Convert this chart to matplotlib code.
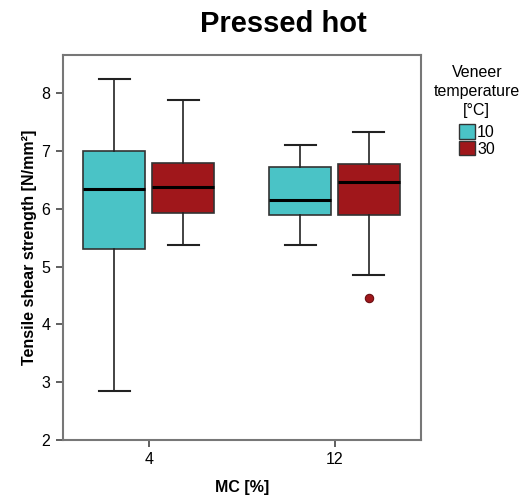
import matplotlib
matplotlib.use("Agg")
import matplotlib.pyplot as plt
from matplotlib.patches import Patch

plt.rcParams['font.family'] = ['Liberation Sans', 'DejaVu Sans']

# data (box plot summary per group)
mc_labels = ["4", "12"]
temps = ["10", "30"]
colors = ["#4AC3C6", "#A0171B"]

# [MC 4, MC 12] for each veneer temperature
whislo = {"10": [2.85, 5.37], "30": [5.37, 4.86]}
q1 = {"10": [5.31, 5.89], "30": [5.93, 5.89]}
med = {"10": [6.34, 6.15], "30": [6.37, 6.46]}
q3 = {"10": [7.00, 6.72], "30": [6.80, 6.77]}
whishi = {"10": [8.24, 7.10], "30": [7.89, 7.32]}
fliers = {"10": [[], []], "30": [[], [4.45]]}

fig = plt.figure(figsize=(5.24, 4.97), dpi=100)
ax = fig.add_axes([0.1197, 0.1147, 0.6837, 0.7746])

offsets = [-0.185, 0.185]
for t, off, col in zip(temps, offsets, colors):
    stats = []
    for i in range(len(mc_labels)):
        stats.append({"whislo": whislo[t][i], "q1": q1[t][i], "med": med[t][i],
                      "q3": q3[t][i], "whishi": whishi[t][i], "fliers": fliers[t][i]})
    pos = [i + off for i in range(len(mc_labels))]
    ax.bxp(stats, positions=pos, widths=0.333, capwidths=0.167, patch_artist=True,
           showfliers=True,
           boxprops=dict(facecolor=col, edgecolor="#333333", linewidth=1.2),
           medianprops=dict(color="black", linewidth=2.2),
           whiskerprops=dict(color="#222222", linewidth=1.2),
           capprops=dict(color="#222222", linewidth=1.5),
           flierprops=dict(marker="o", markerfacecolor=col, markeredgecolor="#6a0f12",
                           markersize=6, markeredgewidth=0.8))

ax.set_xlim(-0.4624, 1.465)
ax.set_ylim(2, 8.66)
ax.set_xticks(range(len(mc_labels)))
ax.set_xticklabels(mc_labels)
ax.set_yticks([2, 3, 4, 5, 6, 7, 8])
ax.tick_params(axis="both", labelsize=11.5, length=5, width=1.2, color="#444444", pad=4)
for s in ax.spines.values():
    s.set_color("#777777")
    s.set_linewidth(1.5)

ax.set_xlabel("MC [%]", fontsize=11.5, fontweight="bold", labelpad=9)
ax.set_ylabel("Tensile shear strength [N/mm²]", fontsize=11.5, fontweight="bold", labelpad=3)
fig.text(0.54, 0.952, "Pressed hot", ha="center", va="center", fontsize=21, fontweight="bold")

handles = [Patch(facecolor=c, edgecolor="#333333", linewidth=1.0, label=t) for t, c in zip(temps, colors)]
leg = fig.legend(handles=handles, title="Veneer\ntemperature\n[°C]", loc="upper center",
                 bbox_to_anchor=(0.91, 0.891), frameon=False, fontsize=11.5,
                 title_fontsize=11.5, handlelength=1.0, handleheight=1.0,
                 handletextpad=0.15, labelspacing=0.05, borderpad=0.2, alignment="center")
leg.get_title().set_multialignment("center")
leg.get_title().set_linespacing(1.3)
leg._legend_box.sep = 5

fig.savefig("out.png", dpi=100)
